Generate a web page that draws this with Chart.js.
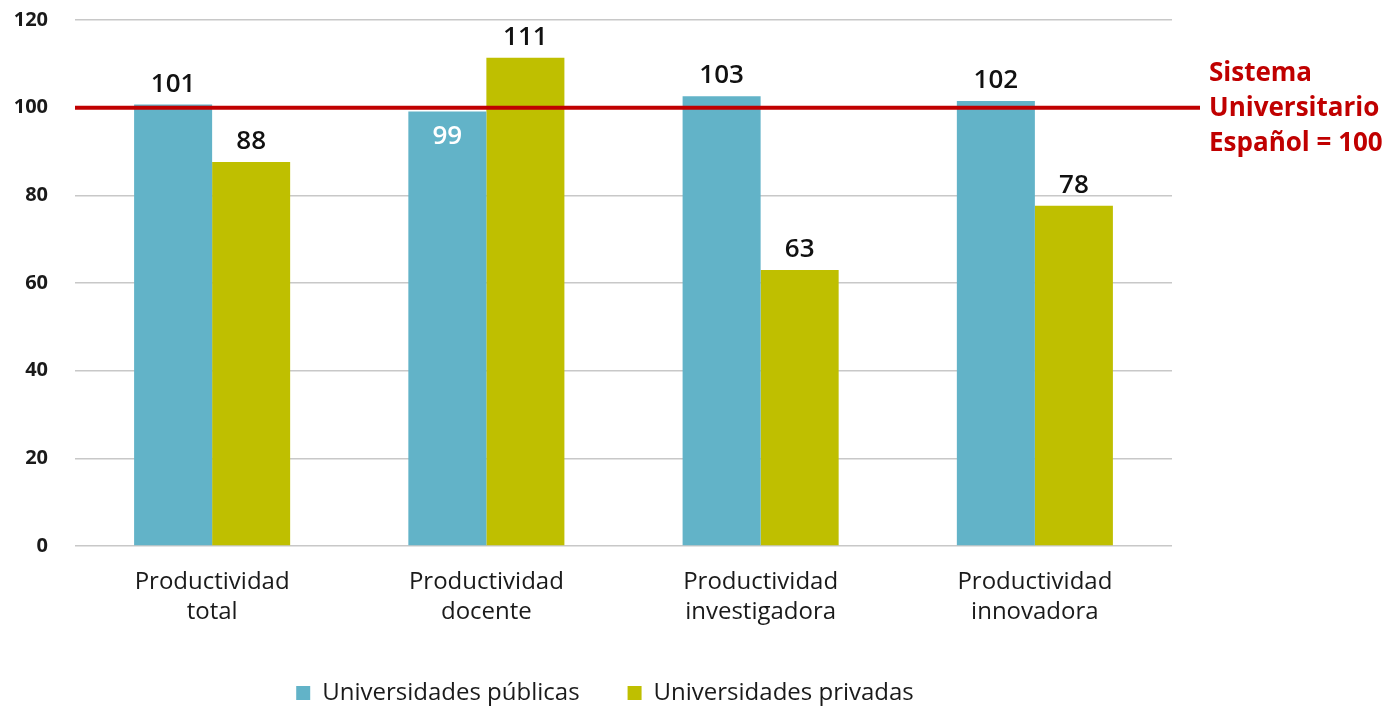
<!DOCTYPE html>
<html>
<head>
<meta charset="utf-8">
<script src="https://cdn.jsdelivr.net/npm/chart.js@4"></script>
<style>
  html, body { margin: 0; padding: 0; background: #fff; overflow: hidden; }
  #wrap { position: relative; width: 1397px; height: 707px; overflow: hidden; }
  #box { position: absolute; left: 0; top: -19px; width: 1210px; height: 734px; }
  #refText {
    position: absolute; left: 1209px; top: 54px;
    font-family: "Open Sans", sans-serif; font-weight: 700; font-size: 26px;
    line-height: 35px; color: #C00000; white-space: nowrap;
  }
</style>
</head>
<body>
<div id="wrap">
  <div id="box"><canvas id="chart"></canvas></div>
  <div id="refText">Sistema<br>Universitario<br>Español = 100</div>
</div>
<script>
// datos
const categories = [
  ['Productividad', 'total'],
  ['Productividad', 'docente'],
  ['Productividad', 'investigadora'],
  ['Productividad', 'innovadora']
];
const publicValues = [100.7, 99.1, 102.6, 101.5];
const privateValues = [87.6, 111.4, 62.95, 77.6];
const publicInside = [false, true, false, false]; // etiqueta dentro de la barra
const yTicks = [0, 20, 40, 60, 80, 100, 120];
const REF_VALUE = 100;

const COLOR_PUBLIC = '#62B3C8';
const COLOR_PRIVATE = '#BFBF00';
const COLOR_REF = '#C00000';
const FONT = '"Open Sans", sans-serif';

// linea de referencia = 100
const refLine = {
  id: 'refLine',
  afterDatasetsDraw(chart) {
    const { ctx, chartArea, scales } = chart;
    const y = scales.y.getPixelForValue(REF_VALUE);
    ctx.save();
    ctx.strokeStyle = COLOR_REF;
    ctx.lineWidth = 4;
    ctx.beginPath();
    ctx.moveTo(chartArea.left, y);
    ctx.lineTo(chartArea.right + 28, y);
    ctx.stroke();
    ctx.restore();
  }
};

// etiquetas de valores
const valueLabels = {
  id: 'valueLabels',
  afterDraw(chart) {
    const ctx = chart.ctx;
    ctx.save();
    ctx.font = '600 26px ' + FONT;
    ctx.textAlign = 'center';
    ctx.textBaseline = 'alphabetic';
    chart.data.datasets.forEach((ds, di) => {
      const meta = chart.getDatasetMeta(di);
      meta.data.forEach((bar, i) => {
        const txt = String(Math.round(ds.data[i]));
        if (di === 0 && publicInside[i]) {
          ctx.fillStyle = '#ffffff';
          ctx.fillText(txt, bar.x, bar.y + 32);
        } else {
          ctx.fillStyle = '#111111';
          ctx.fillText(txt, bar.x, bar.y - 13);
        }
      });
    });
    ctx.restore();
  }
};

new Chart(document.getElementById('chart'), {
  type: 'bar',
  data: {
    labels: categories,
    datasets: [
      { label: 'Universidades públicas', data: publicValues, backgroundColor: COLOR_PUBLIC },
      { label: 'Universidades privadas', data: privateValues, backgroundColor: COLOR_PRIVATE }
    ]
  },
  options: {
    responsive: true,
    maintainAspectRatio: false,
    animation: false,
    layout: { padding: 0 },
    datasets: { bar: { categoryPercentage: 0.569, barPercentage: 1.0 } },
    scales: {
      x: {
        grid: { display: false },
        border: { display: false },
        ticks: {
          color: '#1a1a1a',
          font: { family: FONT, size: 24, weight: '500', lineHeight: 1.25 },
          padding: 13,
          maxRotation: 0
        },
        afterFit(scale) { scale.height = 87; }
      },
      y: {
        min: 0,
        max: 120,
        afterBuildTicks(scale) { scale.ticks = yTicks.map(v => ({ value: v })); },
        grid: { color: '#c8c8c8', lineWidth: 1.5, drawTicks: false },
        border: { display: false },
        ticks: {
          color: '#1a1a1a',
          font: { family: FONT, size: 20, weight: '700' },
          padding: 27
        },
        afterFit(scale) { scale.width = 75; }
      },
      // eje vacio a la derecha para dejar espacio a la linea roja
      yRight: {
        position: 'right',
        display: true,
        grid: { display: false, drawTicks: false },
        border: { display: false },
        ticks: { display: false },
        afterFit(scale) { scale.width = 38; }
      }
    },
    plugins: {
      tooltip: { enabled: false },
      legend: {
        position: 'bottom',
        labels: {
          boxWidth: 14,
          boxHeight: 14,
          padding: 48,
          color: '#1a1a1a',
          font: { family: FONT, size: 24, weight: '500' }
        }
      }
    }
  },
  plugins: [refLine, valueLabels]
});
</script>
</body>
</html>
